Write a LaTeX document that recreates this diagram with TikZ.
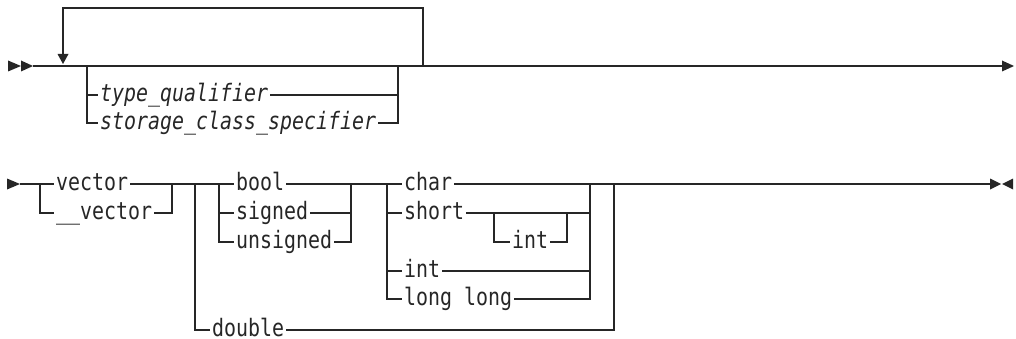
\documentclass[tikz,border=0pt]{standalone}
\usepackage{fontspec}
\setmonofont{DejaVu Sans Mono}[ItalicFont={DejaVu Sans Mono Oblique}, FakeStretch=0.83]
\begin{document}
\begin{tikzpicture}[x=1pt,y=-1pt,
  kw/.style={font=\ttfamily\fontsize{24}{28}\selectfont, inner sep=0pt, anchor=mid west, text=black!85},
  var/.style={kw, font=\ttfamily\itshape\fontsize{24}{28}\selectfont},
  rail/.style={draw=black!85, line width=1.4pt, line join=miter, line cap=butt},
  tip/.style={fill=black!85}]
\ttfamily\fontsize{24}{28}\selectfont
\useasboundingbox (0,0) rectangle (1016,339);

% ---------- first line ----------
\coordinate (s1) at (33,66);
\coordinate (e1) at (1002,66);
\coordinate (j1) at (87,66);
\coordinate (j2) at (398,66);
\coordinate (lp) at (423,66);
\coordinate (lpt) at (423,8);
\coordinate (lpa) at (63,54);

\node[var] (tq)  at (100,95)  {type\_qualifier};
\node[var] (scs) at (100,123) {storage\_class\_specifier};

\fill[tip] (8,60.5) -- (21,66) -- (8,71.5) -- cycle;
\fill[tip] (21,60.5) -- (33,66) -- (21,71.5) -- cycle;

\draw[rail] (s1) -- (e1);
\fill[tip] (e1) ++(0,-5.5) -- ++(12,5.5) -- ++(-12,5.5) -- cycle;

\draw[rail] (lp) -- (lpt) -| (lpa);
\fill[tip] (lpa) ++(-5.5,0) -- ++(11,0) -- ++(-5.5,10) -- cycle;

\draw[rail] (j1) |- ([xshift=-2pt]scs.mid west);
\draw[rail] (j1 |- tq.mid west) -- ([xshift=-2pt]tq.mid west);
\draw[rail] ([xshift=2pt]tq.mid east) -- (j2 |- tq.mid east);
\draw[rail] ([xshift=2pt]scs.mid east) -| (j2);

% ---------- second line ----------
\coordinate (b0) at (20,184);
\coordinate (va) at (40,184);
\coordinate (vb) at (172,184);
\coordinate (ta) at (195,184);
\coordinate (tb) at (614,184);
\coordinate (ba) at (219,184);
\coordinate (bb) at (351,184);
\coordinate (ca) at (387,184);
\coordinate (cb) at (590,184);
\coordinate (oa) at (494,213);
\coordinate (ob) at (567,213);
\coordinate (e2) at (990,184);

\node[kw] (vec)  at (56,184) {vector};
\node[kw] (uvec) at (56,213) {\_\_vector};
\node[kw] (bool) at (236,184) {bool};
\node[kw] (sig)  at (236,213) {signed};
\node[kw] (uns)  at (236,242) {unsigned};
\node[kw] (chr)  at (404,184) {char};
\node[kw] (sht)  at (404,213) {short};
\node[kw] (inta) at (512,242) {int};
\node[kw] (intb) at (404,271) {int};
\node[kw] (ll)   at (404,299) {long long};
\node[kw] (dbl)  at (212,330) {double};

\fill[tip] (7,178.5) -- (20,184) -- (7,189.5) -- cycle;

% vector choice
\draw[rail] (b0) -- ([xshift=-2pt]vec.mid west);
\draw[rail] (va) |- ([xshift=-2pt]uvec.mid west);
\draw[rail] ([xshift=2pt]vec.mid east) -- ([xshift=-2pt]bool.mid west);
\draw[rail] ([xshift=2pt]uvec.mid east) -| (vb);

% big choice with double
\draw[rail] (ta) |- ([xshift=-2pt]dbl.mid west);
\draw[rail] ([xshift=2pt]dbl.mid east) -| (tb);

% bool / signed / unsigned
\draw[rail] (ba) |- ([xshift=-2pt]uns.mid west);
\draw[rail] (ba |- sig.mid west) -- ([xshift=-2pt]sig.mid west);
\draw[rail] ([xshift=2pt]bool.mid east) -- ([xshift=-2pt]chr.mid west);
\draw[rail] ([xshift=2pt]sig.mid east) -- (bb |- sig.mid east);
\draw[rail] ([xshift=2pt]uns.mid east) -| (bb);

% char / short / int / long long
\draw[rail] (ca) |- ([xshift=-2pt]ll.mid west);
\draw[rail] (ca |- sht.mid west) -- ([xshift=-2pt]sht.mid west);
\draw[rail] (ca |- intb.mid west) -- ([xshift=-2pt]intb.mid west);
\draw[rail] ([xshift=2pt]chr.mid east) -- (e2);
\draw[rail] ([xshift=2pt]sht.mid east) -- (cb |- sht.mid east);
\draw[rail] ([xshift=2pt]intb.mid east) -- (cb |- intb.mid east);
\draw[rail] ([xshift=2pt]ll.mid east) -| (cb);

% optional int after short
\draw[rail] (oa) |- ([xshift=-2pt]inta.mid west);
\draw[rail] ([xshift=2pt]inta.mid east) -| (ob);

% thick stroke after the choice
\draw[rail, line width=2.4pt] (620,184) -- (643,184);

% end marks
\fill[tip] (e2) ++(0,-5.5) -- ++(11,5.5) -- ++(-11,5.5) -- cycle;
\fill[tip] (1013,178.5) -- (1002,184) -- (1013,189.5) -- cycle;
\end{tikzpicture}
\end{document}
